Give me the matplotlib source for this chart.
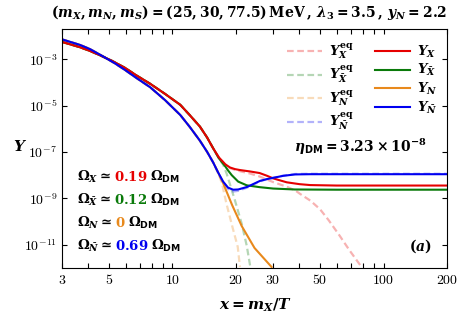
import matplotlib
matplotlib.use("Agg")
import matplotlib.pyplot as plt
import numpy as np
from matplotlib.font_manager import FontProperties
from matplotlib.ticker import FixedLocator, FixedFormatter, NullLocator

# values (x, log10 Y)
x_X = [3, 3.65, 4.07, 4.52, 5.18, 5.96, 6.76, 7.85, 9.24, 10.9, 12.1, 13.5, 14.6, 15.6, 16.6, 17.8, 18.75, 19.8,
       20.9, 23.3, 25.9, 28.1, 30, 34.8, 40, 45, 60, 100, 200]
logY_X = [-2.24, -2.47, -2.63, -2.81, -3.06, -3.36, -3.69, -4.05, -4.49, -4.96, -5.41, -5.90, -6.37, -6.84, -7.23,
          -7.53, -7.67, -7.74, -7.78, -7.84, -7.91, -8.03, -8.14, -8.31, -8.39, -8.43, -8.45, -8.45, -8.45]

x_Xbar = [3, 3.65, 4.07, 4.52, 5.18, 5.96, 6.76, 7.85, 9.24, 10.9, 12.1, 13.5, 14.6, 15.3, 16.6, 17.8, 18.4,
          19.1, 20.5, 22.5, 25.9, 30, 38, 60, 200]
logY_Xbar = [-2.24, -2.47, -2.63, -2.81, -3.06, -3.36, -3.69, -4.05, -4.49, -4.96, -5.41, -5.90, -6.37, -6.70,
             -7.27, -7.62, -7.81, -8.0, -8.28, -8.44, -8.52, -8.58, -8.62, -8.63, -8.63]

x_Nbar = [3, 3.65, 4.07, 4.68, 5.35, 5.96, 6.76, 7.85, 9.24, 10.9, 12.1, 13.5, 14.6, 15.6, 16.46, 17.4, 18.35,
          19.4, 20.5, 22.6, 26.0, 28.1, 33.5, 38.1, 44.9, 100, 200]
logY_Nbar = [-2.13, -2.37, -2.55, -2.86, -3.17, -3.45, -3.8, -4.2, -4.76, -5.4, -5.92, -6.51, -6.99, -7.45,
             -7.88, -8.28, -8.54, -8.63, -8.62, -8.51, -8.25, -8.17, -8.03, -7.97, -7.96, -7.96, -7.96]

x_N = [3, 3.65, 4.07, 4.68, 5.35, 5.96, 6.76, 7.85, 9.24, 10.9, 12.1, 13.5, 14.6, 15.6, 16.46, 17.4, 18.0, 19.2,
       21.3, 24.5, 29.5]
logY_N = [-2.13, -2.37, -2.55, -2.86, -3.17, -3.45, -3.8, -4.2, -4.76, -5.4, -5.92, -6.51, -6.99, -7.45, -7.88,
          -8.35, -8.68, -9.3, -10.2, -11.15, -11.97]

x_X_eq = [3, 3.65, 4.07, 4.52, 5.18, 5.96, 6.76, 7.85, 9.24, 10.9, 12.1, 13.5, 14.6, 15.6, 16.6, 17.8, 18.75, 19.8,
          20.9, 23.3, 25.9, 30, 34.8, 38.3, 40.4, 45, 50, 55, 62, 69, 78.7]
logY_X_eq = [-2.24, -2.47, -2.63, -2.81, -3.06, -3.36, -3.69, -4.05, -4.49, -4.96, -5.41, -5.90, -6.37, -6.84,
             -7.23, -7.55, -7.7, -7.77, -7.83, -7.93, -8.06, -8.3, -8.5, -8.67, -8.82, -9.1, -9.47, -9.95, -10.62,
             -11.25, -11.97]

x_Xbar_eq = [3, 3.65, 4.07, 4.52, 5.18, 5.96, 6.76, 7.85, 9.24, 10.9, 12.1, 13.5, 14.6, 15.6, 16.6, 17.4, 18.1,
             19.8, 21.3, 22.5, 23.4]
logY_Xbar_eq = [-2.24, -2.47, -2.63, -2.81, -3.06, -3.36, -3.69, -4.05, -4.49, -4.96, -5.41, -5.90, -6.37, -6.84,
                -7.27, -7.55, -7.95, -9.1, -10.1, -11.05, -11.97]

x_N_eq = [3, 3.65, 4.07, 4.68, 5.35, 5.96, 6.76, 7.85, 9.24, 10.9, 12.1, 13.5, 14.6, 15.6, 16.46, 17.2, 18.0,
          19.2, 20.4, 20.9]
logY_N_eq = [-2.13, -2.37, -2.55, -2.86, -3.17, -3.45, -3.8, -4.2, -4.76, -5.4, -5.92, -6.51, -6.99, -7.45,
             -7.88, -8.38, -9.2, -10.2, -11.1, -11.97]

x_Nbar_eq = [3, 3.65, 4.07, 4.68, 5.35, 5.96, 6.76, 7.85, 9.24, 10.9, 12.1, 13.5, 14.6, 15.6, 16.46, 17.4, 18.35,
             19.4, 20.5, 22.6, 26.0, 28.1, 33.5, 38.1, 44.9, 100, 200]
logY_Nbar_eq = [-2.13, -2.37, -2.55, -2.86, -3.17, -3.45, -3.8, -4.2, -4.76, -5.4, -5.92, -6.51, -6.99, -7.45,
                -7.9, -8.33, -8.6, -8.71, -8.68, -8.54, -8.27, -8.17, -8.02, -7.95, -7.94, -7.94, -7.94]

omega_labels = [r"$\Omega_{X}\simeq$", r"$\Omega_{\bar{X}}\simeq$", r"$\Omega_{N}\simeq$", r"$\Omega_{\bar{N}}\simeq$"]
omega_values = ["0.19", "0.12", "0", "0.69"]

x_ticks = [3, 5, 10, 20, 30, 50, 100, 200]
x_minor = [4, 6, 7, 8, 9, 40, 60, 70, 80, 90]
y_ticks = [1e-3, 1e-5, 1e-7, 1e-9, 1e-11]
y_tick_labels = [r"$10^{-3}$", r"$10^{-5}$", r"$10^{-7}$", r"$10^{-9}$", r"$10^{-11}$"]

RED, GREEN, ORANGE, BLUE = "#e60000", "#0a7a0a", "#e8891c", "#0000f0"

plt.rcParams.update({
    "mathtext.fontset": "cm",
    "mathtext.rm": "DejaVu Serif:bold",
    "mathtext.it": "DejaVu Serif:bold:italic",
    "mathtext.bf": "DejaVu Serif:bold",
    "mathtext.sf": "DejaVu Sans:bold",
})
BOLD = dict(math_fontfamily="custom")

fig = plt.figure(figsize=(4.59, 3.16), dpi=100)
ax = fig.add_axes([0.135, 0.153, 0.839, 0.754])

dash = (0, (3, 1.6))
lines = {}
for key, xs, ys, col in [("X_eq", x_X_eq, logY_X_eq, RED), ("Xbar_eq", x_Xbar_eq, logY_Xbar_eq, GREEN),
                         ("N_eq", x_N_eq, logY_N_eq, ORANGE), ("Nbar_eq", x_Nbar_eq, logY_Nbar_eq, BLUE)]:
    lines[key], = ax.plot(xs, 10 ** np.array(ys), color=col, lw=1.6, ls=dash, alpha=0.3)
for key, xs, ys, col in [("N", x_N, logY_N, ORANGE), ("Xbar", x_Xbar, logY_Xbar, GREEN),
                         ("X", x_X, logY_X, RED), ("Nbar", x_Nbar, logY_Nbar, BLUE)]:
    lines[key], = ax.plot(xs, 10 ** np.array(ys), color=col, lw=1.5)

ax.set_xscale("log")
ax.set_yscale("log")
ax.set_xlim(3, 200)
ax.set_ylim(1e-12, 2e-2)

ax.xaxis.set_major_locator(FixedLocator(x_ticks))
ax.xaxis.set_major_formatter(FixedFormatter([f"${t}$" for t in x_ticks]))
ax.xaxis.set_minor_locator(FixedLocator(x_minor))
ax.yaxis.set_major_locator(FixedLocator(y_ticks))
ax.yaxis.set_major_formatter(FixedFormatter(y_tick_labels))
ax.yaxis.set_minor_locator(NullLocator())
ax.tick_params(which="both", direction="in", top=True, right=True, length=3.5, width=0.8, labelsize=10)
for sp in ax.spines.values():
    sp.set_linewidth(0.8)

handles = [lines[k] for k in ["X_eq", "Xbar_eq", "N_eq", "Nbar_eq", "X", "Xbar", "N", "Nbar"]]
labels = [r"$Y_{X}^{\mathrm{eq}}$", r"$Y_{\bar{X}}^{\mathrm{eq}}$", r"$Y_{N}^{\mathrm{eq}}$",
          r"$Y_{\bar{N}}^{\mathrm{eq}}$", r"$Y_{X}$", r"$Y_{\bar{X}}$", r"$Y_{N}$", r"$Y_{\bar{N}}$"]
ax.legend(handles, labels, ncol=2, loc="upper right", frameon=False, handlelength=2.7, columnspacing=1.6,
          labelspacing=0.2, handletextpad=0.5, prop=FontProperties(size=9.5, math_fontfamily="custom"),
          bbox_to_anchor=(1.005, 1.0))

ax.text(0.775, 0.508, r"$\eta_{\mathsf{DM}} = 3.23\times10^{-8}$", transform=ax.transAxes, ha="center",
        va="center", fontsize=10, **BOLD)
ax.text(0.932, 0.091, r"$(a)$", transform=ax.transAxes, ha="center", va="center", fontsize=10, **BOLD)

for i, (lab, val, col) in enumerate(zip(omega_labels, omega_values, [RED, GREEN, ORANGE, BLUE])):
    y = 0.380 - i * 0.0967
    t1 = ax.text(0.039, y, lab, transform=ax.transAxes, ha="left", va="center", fontsize=9.5, **BOLD)
    t2 = ax.annotate(r"$\mathrm{" + val + "}$", xy=(1, 0.5), xycoords=t1, xytext=(2, 0),
                     textcoords="offset points", ha="left", va="center", fontsize=9.5, color=col, **BOLD)
    ax.annotate(r"$\Omega_{\mathsf{DM}}$", xy=(1, 0.5), xycoords=t2, xytext=(2, 0),
                textcoords="offset points", ha="left", va="center", fontsize=9.5, **BOLD)

fig.text(0.044, 0.536, r"$Y$", ha="center", va="center", fontsize=11, **BOLD)
fig.text(0.556, 0.035, r"$x = m_{X}/T$", ha="center", va="center", fontsize=11, **BOLD)
fig.text(0.5425, 0.962, r"$(m_{X}, m_{N}, m_{S}) = (25, 30, 77.5)\,\mathrm{MeV}\,,\, \lambda_3 = 3.5\,,\, y_{N} = 2.2$",
         ha="center", va="center", fontsize=10, **BOLD)

fig.savefig("out.png", dpi=100)
